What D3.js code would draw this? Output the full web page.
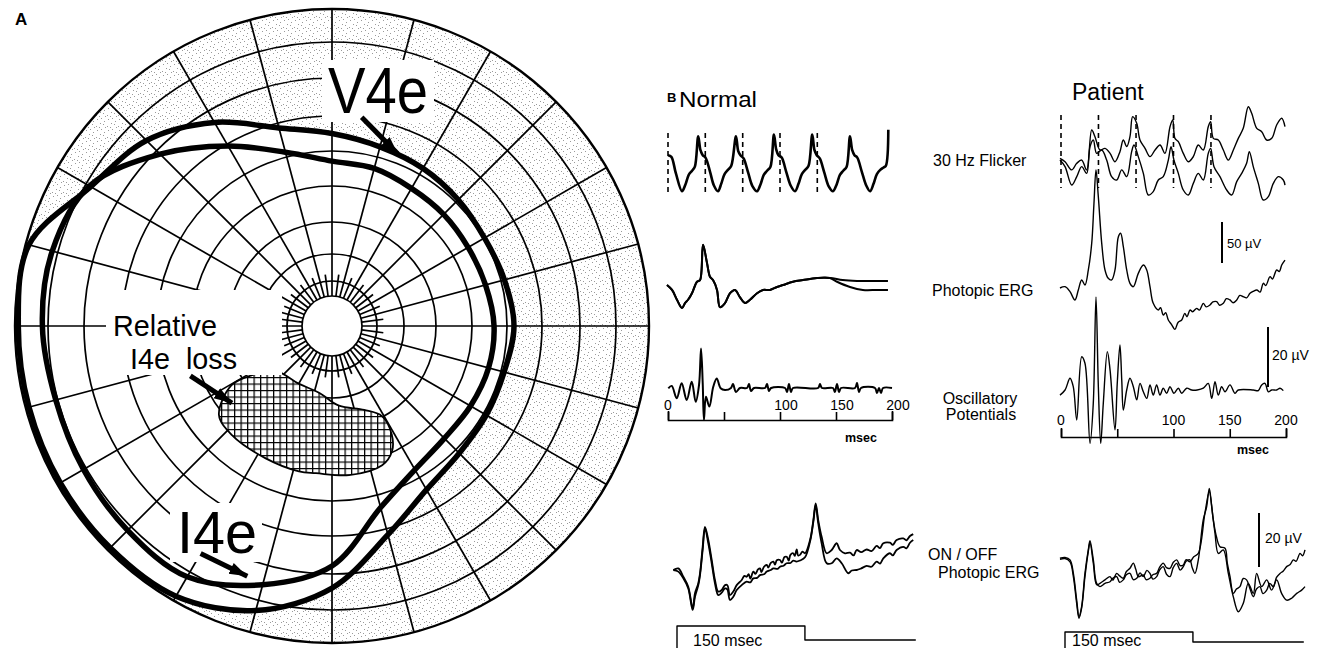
<!DOCTYPE html>
<html>
<head>
<meta charset="utf-8">
<script src="https://cdn.jsdelivr.net/npm/d3@7"></script>
<style>
html, body { margin: 0; padding: 0; background: #fff; }
svg { display: block; }
text { font-family: "Liberation Sans", Arial, Helvetica, sans-serif; fill: #000; white-space: pre; }
</style>
</head>
<body>
<svg id="fig" width="1320" height="648"></svg>
<script>
// ---------- A: Goldmann field (angle deg ccw from right, eccentricity deg) ----------
const ringEcc = [5, 10, 20, 30, 40, 50, 60, 70, 80, 90];
const meridians = d3.range(0, 360, 15);
const minorMeridians = d3.range(7.5, 360, 15);

const v4eIsopter = [[0,52],[15,51],[30,50.3],[45,51],[60,52],[75,53],[90,55],[105,58.6],[120,66.6],[135,74],
  [150,78.5],[165,89],[180,89],[195,89],[210,89],[225,89],[240,88.5],[255,83.2],[270,73.9],[285,61.6],
  [300,54],[315,51.4],[330,50.9],[345,50.9]];
const i4eIsopter = [[0,46.3],[15,45.4],[30,44.9],[45,45.1],[60,45.4],[75,46.6],[90,47.1],[105,51.4],[120,59.4],
  [135,68.7],[150,78.9],[165,81.7],[180,81.7],[195,80.6],[210,80.9],[225,81.5],[240,81.7],[255,75.5],
  [270,67.9],[285,53.7],[300,47.4],[315,45.4],[330,45.7],[345,46.3]];
const i4eLoss = [[218.2,41.1],[210.5,33.5],[211.5,27],[218.8,20],[240,18],[259,18.5],[275,22.5],[291,25.6],
  [299,29.7],[298.8,35.6],[295.6,39.7],[289.8,42.3],[276.5,42.9],[263.8,42.3],[257.2,42.6],[243.4,42.3],[227.5,42.3]];
// arrows: [start, end] in field coordinates
const arrowV4e = [[81.9,60.2],[69,52.6]];
const arrowLoss = [[199.4,42.9],[217.6,36.2]];
const arrowI4e = [[240,74.1],[251.3,74.5]];

// ---------- B: ERG traces [time ms, amplitude uV] ----------
const flashTimes = [0, 33.3, 66.7, 100, 133.3];
const flickerNormal = [[0,12],[3,10],[7,-10],[12.5,-32],[15.5,-24],[18.5,-12],[21.5,-7],[24,-2],[27,35],[29,18],[31,12],
  [33.5,9],[37.5,-8],[41,-25],[44.6,-32],[47.5,-23],[50.5,-11],[53.5,-6],[56.5,-1],[60.7,35],[62.7,17],[64.7,12],
  [67.5,8],[71.5,-9],[75.5,-26],[79.5,-32],[82.5,-24],[85.5,-12],[88.5,-7],[91.5,-2],[94.6,37],[96.6,19],[98.6,12],
  [101.5,9],[105.5,-8],[109.5,-25],[113.4,-32],[116.5,-23],[119.5,-11],[122.5,-6],[125.5,-1],[128.8,37],[130.8,18],
  [132.8,12],[135.5,8],[139.5,-9],[143.5,-26],[147.3,-32],[150.5,-24],[153.5,-12],[156.5,-7],[159.5,-2],[162.5,35],
  [164.5,18],[166.5,12],[169,9],[173,-8],[177,-25],[180.4,-32],[183.5,-23],[186.5,-11],[189.5,-6],[192.5,-3],
  [194.5,-1],[196.7,43]];
const flickerPatientA = [[-0.9,8.2],[3.6,4],[9.5,-6],[14,2],[18.4,6],[22.8,-6],[27.3,42.7],[30.2,34.5],[34.7,18.3],
  [39.1,20.3],[43.6,14.2],[48,4],[52.4,16.3],[55.4,30.5],[58.4,22.4],[61.3,34.5],[63.7,59],[67.3,50.8],[70.2,30.5],
  [74.7,20.3],[79.1,10.2],[83.6,18.3],[88,24.4],[92.4,14.2],[96.9,46.7],[99.3,54.9],[101.3,32.5],[104.3,28.4],
  [108.7,14.2],[113.2,4],[117.6,10.2],[122,24.4],[126.5,18.3],[130.9,46.7],[133,52.8],[135.4,32.5],[139.8,30.5],
  [144.3,18.3],[148.7,6],[153.2,18.3],[157.6,32.5],[162,44.7],[166.5,71],[169.5,63],[174,44.7],[178.4,40.6],
  [182.8,30.5],[187.3,32.5],[191.7,48.8],[196.2,57],[199.1,46.7]];
const flickerPatientB = [[-0.9,6],[3.6,-2],[9.5,-24.4],[14,-14.2],[18.4,-2],[22.8,-10.2],[25.8,22.4],[28.7,30.5],
  [31.7,14.2],[36.2,18.3],[40.6,6],[45,-14.2],[49.5,-18.3],[54,-6],[58.4,-14.2],[62.8,16.3],[64.9,24.4],[68.7,10.2],
  [73.2,-10.2],[77.6,-36.6],[82,-32.5],[86.5,-18.3],[90.9,-14.2],[95.4,6],[97.8,22.4],[100.4,6],[104.3,-10.2],
  [108.7,-30.5],[113.2,-36.6],[117.6,-22.4],[122,-10.2],[126.5,-18.3],[130.9,14.2],[133,20.3],[136,-2],[141.3,-14.2],
  [147.3,-30.5],[151.7,-36.6],[156.2,-20.3],[160.6,-10.2],[165,2],[167.4,16.3],[170.9,-2],[175.4,-22.4],[179.8,-42.7],
  [184.3,-38.6],[188.7,-22.4],[193.2,-14.2],[197.6,-18.3],[199.1,-24.4]];

const photopicNormalStart = [[-0.9,0],[3.6,-6],[8,-18],[12.5,-28],[15.2,-22],[17.9,-18],[21.4,-10],[25.9,4],[28.6,6],
  [31.3,49],[34.8,27],[37.5,10],[40.2,6],[43.75,-6],[46.4,-27],[50.9,-22],[55.4,-10],[59.8,-6],[64.3,-15],[68.75,-22],
  [73.2,-18],[79.5,-10],[84.8,-6],[91,-6],[97.3,-2.4],[102.7,0],[111.6,4],[120.5,6],[133,8.5],[144.6,8.5]];
const photopicNormalTailA = [[156,6],[168.75,5],[180,5],[196.4,5]];
const photopicNormalTailB = [[150.9,4],[162.5,-2.4],[174,-6],[186.6,-6],[196.4,-6]];
const photopicPatient = [[-0.9,0],[3.6,1.6],[8,-4.5],[12.4,-14.6],[15.4,-2.4],[18.4,9.8],[21.3,3.7],[24.3,22],
  [27.3,54.5],[29.3,103],[31.1,144],[33.2,111],[36.2,54.5],[39.1,22],[42,11.8],[45,9.8],[48,22],[51,62.6],[53,66.7],
  [55.4,50.4],[58.4,22],[61.3,5.7],[64.3,1.6],[68.7,17.9],[73.2,28],[76.2,22],[79.1,1.6],[82,-18.7],[86.5,-26.8],
  [88.5,-24],[90.9,-32.9],[93,-30],[95.4,-39],[98,-44],[101.3,-50.4],[104,-42],[107.3,-39],[110,-31],[112,-35],
  [114.7,-26.8],[117,-29],[120.6,-24.8],[123,-27],[126.5,-18.7],[129,-23],[132.4,-20.7],[135,-17],[138.4,-16.7],
  [141,-21],[144.3,-18.7],[147,-13],[150.2,-14.6],[153,-18],[156.2,-14.6],[159,-9],[162,-10.6],[165,-12],[168,-6.5],
  [171,-4],[174,-2.4],[177,-5],[179.8,5.7],[182,3],[185.8,13.8],[188,11],[191.7,22],[194,20],[196.2,28],[199.1,34]];

const opTicks = [0, 50, 100, 150, 200];
const opTickLabels = [0, 100, 150, 200];
const opNormal = [[0.3,-0.1],[3.3,0.7],[7.8,-3.4],[12.2,1.6],[16.7,-4],[21.2,2.1],[24.7,-4.6],[27.7,1],[29.5,13.2],
  [31,1.6],[32.1,-10.7],[33.9,-2.9],[36.9,-6.2],[40.4,0.4],[43.5,3.2],[47,-0.1],[50.9,-0.7],[56.25,0],[58,1.3],
  [60.7,-1.3],[64.3,0],[70.5,0],[72.3,1.3],[74.1,-1],[76.8,0],[86.6,0],[88.4,1.3],[90.2,-1],[92,0],[104.5,0],
  [106.3,-1.3],[108,1.3],[109.8,-1.3],[111.6,0],[134,0],[135.7,1.3],[137.5,0],[147.3,0],[149,-1.3],[150.9,1.3],
  [152.7,-1.3],[154.5,0],[167,0],[168.75,1.7],[170.5,-1.3],[172.3,0],[184.8,0],[186.6,-1.7],[188.4,0],[190.2,-1.7],
  [192,0],[200,0]];
const opPatient = [[-0.9,-1.7],[3.6,0],[8,3.9],[10.9,1.1],[14,-10],[18.4,11.1],[21.3,8.9],[25.8,-17.8],[28.7,-4.4],
  [31.1,31],[33.2,1.1],[35.3,-17.8],[37.6,-4.4],[41.2,12.8],[43.6,6.7],[48,-13.3],[50,2.2],[52.4,15],[54,3.3],
  [55.4,-6.7],[58.4,0],[61.3,3.9],[64.3,1.1],[67.3,-3.3],[70.2,2.2],[73.2,-0.6],[76.2,-2.8],[79.1,1.7],[82,-1.7],
  [85,1.7],[88,-1.7],[90.9,0.6],[93.9,-1.1],[96.9,1.1],[100.4,-1.1],[104.3,0.6],[107.3,-1.1],[111.7,0.6],[116.2,0],
  [121,0],[126.5,0.6],[130.9,2.2],[134,-2.8],[136.9,2.8],[139.8,-1.7],[142.8,1.1],[145.8,-0.6],[150.2,1.7],
  [154.7,-1.1],[157.6,0],[170.9,0],[175.4,-0.2],[178.4,1.7],[181.3,2.2],[184.3,-0.6],[187.3,0],[191.7,0],
  [194.7,0.6],[197.6,-0.2]];

const stimulus = [[0,-1],[0,1],[150,1],[150,0],[280,0]];
const onoffNormalA = [[-4.3,0],[1.5,0.6],[7.4,-2.5],[13.2,-6.2],[18.4,-14.2],[21.1,-8.6],[25,-4.9],[27,-1.2],
  [30.1,8.6],[32.8,16],[36.7,11.1],[40.7,3.7],[44.5,-3.7],[48.4,-8],[52.4,-7.4],[56.3,-5.6],[59,-5.6],[62.1,-9.3],
  [66,-8],[70,-5.6],[75.9,-3.7],[79,-2.2],[81.7,-2.5],[84,-1.5],[86,-3.2],[89.5,-0.6],[92,-1.4],[95,0.2],[97.3,0.6],
  [99,-0.8],[102,1.2],[105.2,1.9],[107,0.9],[110,2.6],[113,3.1],[115,2],[117,3.6],[120.8,3.7],[123,2.7],[126,4.8],
  [128.6,4.9],[131,3.5],[133,5.6],[136.3,6.2],[138,5.2],[140.4,7.6],[142,5.4],[144.2,5.6],[147,6.8],[150.1,6.2],
  [156,11.1],[159.9,18.5],[162.6,24.7],[165.6,18.5],[169.6,12.3],[175.5,6.2],[181.4,7.4],[187.2,9.9],
  [191.1,7.4],[197,6.2],[202.8,6.4],[207,5.4],[210.7,7.4],[216,6.6],[222.4,7.6],[228,7],[234.1,8.9],[238,8.1],
  [241.9,9.9],[249.7,10.1],[253,9.3],[257.5,11.1],[265.4,11.7],[269,11],[273.2,12.6],[277,13.3]];
const onoffNormalB = [[-4.3,0],[1.5,-0.6],[7.4,-3.1],[13.2,-6.8],[18.4,-14.8],[21.1,-9.9],[25,-5.6],[27,-1.9],
  [30.1,7.4],[32.8,15.4],[36.7,9.9],[40.7,2.5],[44.5,-4.9],[48.4,-9.3],[52.4,-8.4],[56.3,-6.8],[59,-7.2],[62.1,-11.1],
  [66,-9.9],[70,-7.4],[75.9,-5.6],[81.7,-4.3],[86,-4.6],[89.5,-3.1],[94,-2.9],[97.3,-1.9],[102,-1.6],[105.2,-0.6],
  [110,0],[113,0.6],[118,0.4],[120.8,1.2],[125,1.6],[128.6,2.5],[133,2.6],[136.3,3.5],[140,3.1],[144.2,3.5],
  [150.1,4.7],[156,10.5],[159.9,17.9],[162.6,24],[165.6,17.3],[169.6,9.9],[175.5,2.5],[181.4,2.5],[187.2,4.3],
  [193.1,2.5],[200.9,-1.2],[205,-0.2],[210.7,0],[216,0.6],[222.4,1.5],[228,1.2],[234.1,3.1],[238,2.4],[241.9,4.3],
  [249.7,6.2],[253,5.4],[257.5,7.4],[265.4,8.6],[269,8],[273.2,10.1],[277,11.1]];
const onoffPatientA = [[-5.9,-0.1],[0,0.2],[5.9,-0.7],[9.8,-5.7],[13.7,-15.6],[16.4,-21.7],[19.5,-18],[23.4,-5.7],
  [27.3,3],[29.3,6.4],[33.2,-0.7],[37.1,-9.4],[41,-10.6],[46.9,-9.4],[52.8,-8.8],[56,-7.5],[60.6,-6.9],[64,-9],
  [68.3,-8.1],[72,-6.2],[76.2,-5.7],[80,-8],[84.1,-7.5],[88,-5.5],[91.8,-6.9],[96,-4.6],[99.6,-5.7],[103,-7.8],
  [107.5,-6.9],[111,-4.4],[115.2,-3.2],[119,-6],[123.1,-6.9],[127,-3.5],[131,-2],[135,-4.5],[138.7,-3.2],[142,-1.2],
  [146.5,-0.7],[149,-3.4],[152.4,-5.7],[156.3,-0.7],[162.1,14.1],[166.1,19],[169.2,25.8],[172,19],[175.9,9.1],
  [179.8,1.7],[185.6,3],[191.5,-5.7],[197.3,-14.3],[203.2,-19.9],[209,-16.8],[214.9,-9.4],[220.8,-13.1],
  [224.7,-5.7],[230.6,-10.6],[236.5,-8.1],[242.3,-11.9],[248.2,-8.1],[254,-13.1],[259.9,-15.6],[265.8,-14.9],
  [271.7,-13.1],[277.5,-11.9],[281.4,-10.6]];
const onoffPatientB = [[-5.9,-0.5],[0,-0.2],[5.9,-1.4],[9.8,-6.9],[13.7,-16.8],[16.4,-22.3],[19.5,-18.6],
  [23.4,-6.9],[27.3,2.4],[29.3,5.7],[33.2,-1.9],[37.1,-9.9],[41,-9.4],[46.9,-8.1],[52.8,-6.9],[56,-8.2],[60.6,-5.7],
  [64,-6.6],[68.3,-7.5],[72,-5],[76.2,-3.8],[80.1,-1.9],[83,-4.2],[86,-6.9],[91.8,-6.3],[95,-8],[99.6,-7.5],
  [103,-6.2],[107.5,-5.7],[111,-3.4],[115.2,-1.9],[119,-3.6],[123.1,-3.8],[127,-1.6],[131,-0.7],[135,-2.8],
  [138.7,-2.6],[142,-0.6],[146.5,-1.4],[151,0.5],[156.3,1.7],[164,16.5],[169.2,24.6],[173.9,14.1],[177.5,8],
  [181.7,4.2],[187.6,3.6],[190.3,-1.9],[193.5,-6.9],[197.3,-13.1],[201,-11.5],[205.1,-10.6],[209,-7.6],[212.9,-8.1],
  [216.5,-11],[220.8,-14.3],[224.5,-11.5],[228.6,-10.6],[232,-13.2],[236.5,-11.9],[240,-9.4],[244.3,-10.6],
  [248,-7.2],[252.1,-5.7],[256,-4.8],[259.9,-3.2],[264,-2.4],[267.7,-0.7],[271,-1.2],[275.6,1.7],[278.5,0.8],[281.4,3]];

// ---------- svg ----------
const svg = d3.select('#fig');
const defs = svg.append('defs');

const stip = defs.append('pattern').attr('id', 'stip')
  .attr('patternUnits', 'userSpaceOnUse').attr('width', 11).attr('height', 11);
stip.append('rect').attr('width', 11).attr('height', 11).attr('fill', '#fff');
[[1,2],[5,0],[8,5],[2,8],[6,6],[9,9],[4,3],[0,6]].forEach(p => {
  stip.append('rect').attr('x', p[0]).attr('y', p[1]).attr('width', 1).attr('height', 1).attr('fill', '#9a9a9a');
});

const hatch = defs.append('pattern').attr('id', 'hatch')
  .attr('patternUnits', 'userSpaceOnUse').attr('width', 6.5).attr('height', 6.5);
hatch.append('rect').attr('width', 6.5).attr('height', 6.5).attr('fill', '#fff');
hatch.append('path').attr('d', 'M0,0.6H6.5M0.6,0V6.5').attr('stroke', '#000').attr('stroke-width', 1.3);

defs.append('marker').attr('id', 'head')
  .attr('markerUnits', 'userSpaceOnUse')
  .attr('markerWidth', 20).attr('markerHeight', 14)
  .attr('refX', 18).attr('refY', 6).attr('orient', 'auto')
  .append('path').attr('d', 'M0,0L18,6L0,12Z').attr('fill', '#000');

// ---------- field chart ----------
const cx = 332, cy = 326;
const rScale = d3.scaleLinear()
  .domain([0, 5, 10, 20, 30, 40, 50, 60, 70, 80, 90])
  .range([0, 30, 45, 72, 104, 140, 175, 210, 248, 284, 317]);
const toXY = (a, e) => {
  const rad = a * Math.PI / 180;
  return [cx + rScale(e) * Math.cos(rad), cy - rScale(e) * Math.sin(rad)];
};
const closed = d3.line().curve(d3.curveCatmullRomClosed.alpha(0.5));
const field = svg.append('g');

defs.append('clipPath').attr('id', 'fieldClip')
  .append('circle').attr('cx', cx).attr('cy', cy).attr('r', rScale(90));

// stippled area outside the V4e isopter
const circlePath = d3.path();
circlePath.arc(cx, cy, rScale(90), 0, 2 * Math.PI);
field.append('path')
  .attr('d', circlePath.toString() + closed(v4eIsopter.map(d => toXY(d[0], d[1]))))
  .attr('fill', 'url(#stip)').attr('fill-rule', 'evenodd')
  .attr('clip-path', 'url(#fieldClip)');

const grid = field.append('g').attr('fill', 'none').attr('stroke', '#000').attr('stroke-width', 1.7);
grid.selectAll('circle.ring').data(ringEcc.slice(0, -1)).join('circle')
  .attr('class', 'ring').attr('cx', cx).attr('cy', cy).attr('r', d => rScale(d));
grid.selectAll('line.mer').data(meridians).join('line')
  .attr('class', 'mer')
  .attr('x1', d => toXY(d, 5)[0]).attr('y1', d => toXY(d, 5)[1])
  .attr('x2', d => toXY(d, 90)[0]).attr('y2', d => toXY(d, 90)[1]);
grid.selectAll('line.minor').data(minorMeridians).join('line')
  .attr('class', 'minor')
  .attr('x1', d => toXY(d, 5)[0]).attr('y1', d => toXY(d, 5)[1])
  .attr('x2', d => toXY(d, 12.5)[0]).attr('y2', d => toXY(d, 12.5)[1]);

// relative I4e loss (hatched)
field.append('path')
  .attr('d', closed(i4eLoss.map(d => toXY(d[0], d[1]))))
  .attr('fill', 'url(#hatch)').attr('stroke', '#000').attr('stroke-width', 1.8);

// white label backgrounds
const boxes = [[322, 60, 112, 62], [106, 290, 176, 85], [170, 503, 92, 59]];
field.selectAll('rect.box').data(boxes).join('rect')
  .attr('class', 'box').attr('x', d => d[0]).attr('y', d => d[1])
  .attr('width', d => d[2]).attr('height', d => d[3]).attr('fill', '#fff');

field.append('circle').attr('cx', cx).attr('cy', cy).attr('r', rScale(90))
  .attr('fill', 'none').attr('stroke', '#000').attr('stroke-width', 2.4);

[v4eIsopter, i4eIsopter].forEach(iso => {
  field.append('path').attr('d', closed(iso.map(d => toXY(d[0], d[1]))))
    .attr('fill', 'none').attr('stroke', '#000').attr('stroke-width', 5.5);
});

[arrowV4e, arrowLoss, arrowI4e].forEach(ar => {
  const a = toXY(ar[0][0], ar[0][1]), b = toXY(ar[1][0], ar[1][1]);
  field.append('line').attr('x1', a[0]).attr('y1', a[1]).attr('x2', b[0]).attr('y2', b[1])
    .attr('stroke', '#000').attr('stroke-width', 5).attr('marker-end', 'url(#head)');
});

field.append('text').attr('x', 15).attr('y', 25).attr('font-size', 17).attr('font-weight', 'bold').text('A');
field.append('text').attr('x', 328).attr('y', 113).attr('font-size', 64)
  .attr('textLength', 100).attr('lengthAdjust', 'spacingAndGlyphs').text('V4e');
field.append('text').attr('x', 113).attr('y', 336).attr('font-size', 29)
  .attr('textLength', 104).attr('lengthAdjust', 'spacingAndGlyphs').text('Relative');
field.append('text').attr('x', 130).attr('y', 369).attr('font-size', 29)
  .attr('textLength', 107).attr('lengthAdjust', 'spacingAndGlyphs').text('I4e  loss');
field.append('text').attr('x', 177).attr('y', 553).attr('font-size', 60)
  .attr('textLength', 80).attr('lengthAdjust', 'spacingAndGlyphs').text('I4e');

// ---------- B: ERG ----------
const erg = svg.append('g');
const xN = d3.scaleLinear().domain([0, 200]).range([668, 892]);
const xP = d3.scaleLinear().domain([0, 200]).range([1061, 1286]);
const xNs = d3.scaleLinear().domain([0, 280]).range([677, 915.8]);
const xPs = d3.scaleLinear().domain([0, 280]).range([1065, 1303.8]);
const amp = (base, pxPerUv) => d3.scaleLinear().domain([0, 100]).range([base, base - 100 * pxPerUv]);
const yFlN = amp(165, 0.82), yFlP = amp(165, 0.82);
const yPhN = amp(285, 0.82), yPhP = amp(288, 0.82);
const yOpN = amp(388, 3), yOpP = amp(390, 3);
const yOoN = amp(570, 2.7), yOoP = amp(558, 2.7);
const stimY = d3.scaleLinear().domain([-1, 0, 1]).range([650, 640, 626]);
const stimYP = d3.scaleLinear().domain([-1, 0, 1]).range([650, 642, 632]);

const trace = (data, x, y, w, curve) => {
  erg.append('path').datum(data)
    .attr('d', d3.line().x(d => x(d[0])).y(d => y(d[1])).curve(curve || d3.curveCatmullRom.alpha(0.5)))
    .attr('fill', 'none').attr('stroke', '#000').attr('stroke-width', w)
    .attr('stroke-linejoin', 'round');
};

// flash markers
erg.selectAll('line.flashN').data(flashTimes).join('line')
  .attr('x1', d => xN(d)).attr('x2', d => xN(d)).attr('y1', 133).attr('y2', 193)
  .attr('stroke', '#000').attr('stroke-width', 1.6).attr('stroke-dasharray', '5,4');
erg.selectAll('line.flashP').data(flashTimes).join('line')
  .attr('x1', d => xP(d)).attr('x2', d => xP(d)).attr('y1', 115).attr('y2', 188)
  .attr('stroke', '#000').attr('stroke-width', 1.6).attr('stroke-dasharray', '5,4');

trace(flickerNormal, xN, yFlN, 2.6);
trace(flickerPatientA, xP, yFlP, 1.4);
trace(flickerPatientB, xP, yFlP, 1.4);
trace(photopicNormalStart.concat(photopicNormalTailA), xN, yPhN, 2);
trace(photopicNormalStart.concat(photopicNormalTailB), xN, yPhN, 2);
trace(photopicPatient, xP, yPhP, 1.4);
trace(opNormal, xN, yOpN, 2);
trace(opPatient, xP, yOpP, 1.4);
trace(onoffNormalA, xNs, yOoN, 1.8);
trace(onoffNormalB, xNs, yOoN, 1.8);
trace(onoffPatientA, xPs, yOoP, 1.4);
trace(onoffPatientB, xPs, yOoP, 1.4);
trace(stimulus, xNs, stimY, 1.4, d3.curveLinear);
trace(stimulus, xPs, stimYP, 1.4, d3.curveLinear);

// time axes under the oscillatory potentials
const axisN = erg.append('g').attr('transform', 'translate(0,420)')
  .call(d3.axisTop(xN).tickValues(opTicks).tickSize(8).tickSizeOuter(9).tickFormat(''));
const axisP = erg.append('g').attr('transform', 'translate(0,437)')
  .call(d3.axisTop(xP).tickValues(opTicks).tickSize(8).tickSizeOuter(9).tickFormat(''));
[axisN, axisP].forEach(a => a.selectAll('path,line').attr('stroke', '#000').attr('stroke-width', 1.6));
erg.selectAll('text.tlN').data(opTickLabels).join('text')
  .attr('x', d => xN(d) + (d ? 6 : 0)).attr('y', 410).attr('text-anchor', 'middle').attr('font-size', 14).text(d => d);
erg.selectAll('text.tlP').data(opTickLabels).join('text')
  .attr('x', d => xP(d)).attr('y', 425).attr('text-anchor', 'middle').attr('font-size', 14).text(d => d);
erg.append('text').attr('x', 861).attr('y', 442).attr('text-anchor', 'middle')
  .attr('font-size', 12.5).attr('font-weight', 'bold').text('msec');
erg.append('text').attr('x', 1253).attr('y', 454).attr('text-anchor', 'middle')
  .attr('font-size', 12.5).attr('font-weight', 'bold').text('msec');

// amplitude scale bars
const bars = [[1222, 263, 50 * 0.82, '50 \u00b5V', 1227, 248, 13], [1268, 387, 20 * 3, '20 \u00b5V', 1272, 360, 14],
  [1259, 567, 20 * 2.7, '20 \u00b5V', 1265, 543, 14]];
bars.forEach(b => {
  erg.append('line').attr('x1', b[0]).attr('x2', b[0]).attr('y1', b[1]).attr('y2', b[1] - b[2])
    .attr('stroke', '#000').attr('stroke-width', 2);
  erg.append('text').attr('x', b[4]).attr('y', b[5]).attr('font-size', b[6]).text(b[3]);
});

// headings and row labels
erg.append('text').attr('x', 667).attr('y', 102).attr('font-size', 13).attr('font-weight', 'bold').text('B');
erg.append('text').attr('x', 679).attr('y', 107).attr('font-size', 22)
  .attr('textLength', 78).attr('lengthAdjust', 'spacingAndGlyphs').text('Normal');
erg.append('text').attr('x', 1072).attr('y', 100).attr('font-size', 23).text('Patient');
erg.append('text').attr('x', 933).attr('y', 166).attr('font-size', 16).text('30 Hz Flicker');
erg.append('text').attr('x', 932).attr('y', 296).attr('font-size', 16).text('Photopic ERG');
erg.append('text').attr('x', 980).attr('y', 404).attr('text-anchor', 'middle').attr('font-size', 16).text('Oscillatory');
erg.append('text').attr('x', 981).attr('y', 420).attr('text-anchor', 'middle').attr('font-size', 16).text('Potentials');
erg.append('text').attr('x', 928).attr('y', 560).attr('font-size', 16).text('ON / OFF');
erg.append('text').attr('x', 938).attr('y', 578).attr('font-size', 16).text('Photopic ERG');
erg.append('text').attr('x', 693).attr('y', 646).attr('font-size', 16).text('150 msec');
erg.append('text').attr('x', 1072).attr('y', 646).attr('font-size', 16).text('150 msec');
</script>
</body>
</html>
